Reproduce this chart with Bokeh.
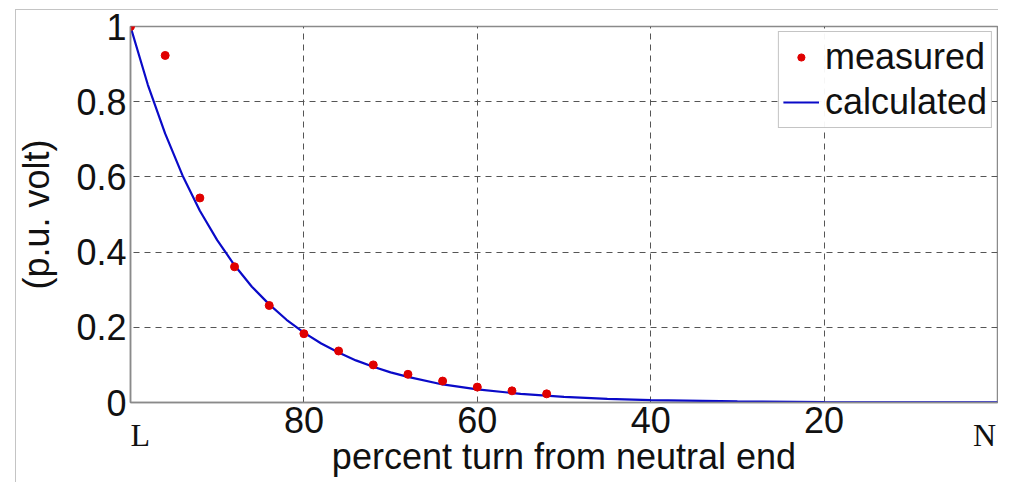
from bokeh.plotting import figure
from bokeh.models import Range1d, FixedTicker, LinearAxis, Legend, LegendItem
from bokeh.embed import file_html
from bokeh.resources import INLINE

# measured points (percent turn from neutral end, p.u. volt)
meas_x = [100, 96, 92, 88, 84, 80, 76, 72, 68, 64, 60, 56, 52]
meas_y = [1.0, 0.923, 0.544, 0.361, 0.258, 0.183, 0.137, 0.100, 0.075, 0.057, 0.041, 0.031, 0.023]

# calculated curve
calc_x = [100, 98, 96, 94, 92, 90, 88, 86, 84, 82, 80, 78, 76, 74, 72, 70, 68, 64, 60, 55, 50, 45, 40, 30, 20, 10, 0]
calc_y = [1.0, 0.845, 0.715, 0.604, 0.510, 0.432, 0.365, 0.308, 0.261, 0.220, 0.186, 0.157, 0.133, 0.112, 0.095, 0.080,
          0.068, 0.048, 0.035, 0.023, 0.015, 0.0098, 0.0065, 0.0028, 0.0012, 0.0005, 0.0002]

x_ticks = [80, 60, 40, 20]
y_ticks = [0, 0.2, 0.4, 0.6, 0.8, 1]
y_tick_labels = {0: "0", 0.2: "0.2", 0.4: "0.4", 0.6: "0.6", 0.8: "0.8", 1: "1"}
end_ticks = [98.875, 1.5]
end_tick_labels = {98.875: "L", 1.5: "N"}

SANS = "Liberation Sans"
SERIF = "Liberation Serif"
TXT = "#111111"
EDGE = "#c4c4c4"

p = figure(width=998, height=482, x_range=Range1d(100, 0), y_range=Range1d(0, 1),
           output_backend="svg", toolbar_location=None,
           min_border_left=130, min_border_right=1, min_border_top=26, min_border_bottom=80)
p.border_fill_color = None
p.background_fill_color = "#ffffff"
p.styles = {"background": (f"linear-gradient({EDGE},{EDGE}) 15px 9px / 1px calc(100% - 9px) no-repeat, "
                           f"linear-gradient({EDGE},{EDGE}) 15px 9px / calc(100% - 15px) 1px no-repeat, #ffffff")}

p.outline_line_color = "#8a8a8a"
p.outline_line_width = 1.5

for ax in (p.xaxis[0], p.yaxis[0]):
    ax.axis_line_color = "#8a8a8a"
    ax.axis_line_width = 1.5
    ax.major_tick_line_color = None
    ax.minor_tick_line_color = None
    ax.major_label_text_font = SANS
    ax.major_label_text_font_size = "36px"
    ax.major_label_text_color = TXT
    ax.axis_label_text_font = SANS
    ax.axis_label_text_font_size = "36px"
    ax.axis_label_text_font_style = "normal"
    ax.axis_label_text_color = TXT

p.xaxis.ticker = FixedTicker(ticks=x_ticks)
p.yaxis.ticker = FixedTicker(ticks=y_ticks)
p.yaxis.major_label_overrides = y_tick_labels
p.xaxis.axis_label = "percent turn from neutral end"
p.yaxis.axis_label = "(p.u. volt)"
p.xaxis.major_label_standoff = -2
p.yaxis.major_label_standoff = -2
p.xaxis.axis_label_standoff = 0
p.yaxis.axis_label_standoff = 16

# serif end labels L / N on a second bottom axis, pulled up beside the numbers
end_axis = LinearAxis(ticker=FixedTicker(ticks=end_ticks), major_label_overrides=end_tick_labels,
                      axis_line_color=None, major_tick_line_color=None, minor_tick_line_color=None,
                      major_label_text_font=SERIF, major_label_text_font_size="32px",
                      major_label_text_color=TXT, major_label_standoff=-69)
p.add_layout(end_axis, "below")

p.xgrid.ticker = FixedTicker(ticks=x_ticks)
p.ygrid.ticker = FixedTicker(ticks=[0.2, 0.4, 0.6, 0.8])
for g in (p.xgrid[0], p.ygrid[0]):
    g.grid_line_color = "#555555"
    g.grid_line_dash = "6 5"
    g.grid_line_width = 1

r_line = p.line(calc_x, calc_y, line_color="#0a0ac8", line_width=2.2)
r_pts = p.scatter(meas_x, meas_y, size=8, fill_color="#e00000", line_color="#e00000")

legend = Legend(items=[LegendItem(label="measured", renderers=[r_pts]),
                       LegendItem(label="calculated", renderers=[r_line])],
                location="top_right")
legend.label_text_font = SANS
legend.label_text_font_size = "36px"
legend.label_text_color = TXT
legend.border_line_color = "#8a8a8a"
legend.border_line_width = 1.5
legend.padding = 4
legend.spacing = 3
legend.glyph_width = 36
legend.glyph_height = 18
legend.label_height = 36
legend.label_standoff = 6
legend.margin = 5
p.add_layout(legend)

open("out.html", "w").write(file_html(p, INLINE))
